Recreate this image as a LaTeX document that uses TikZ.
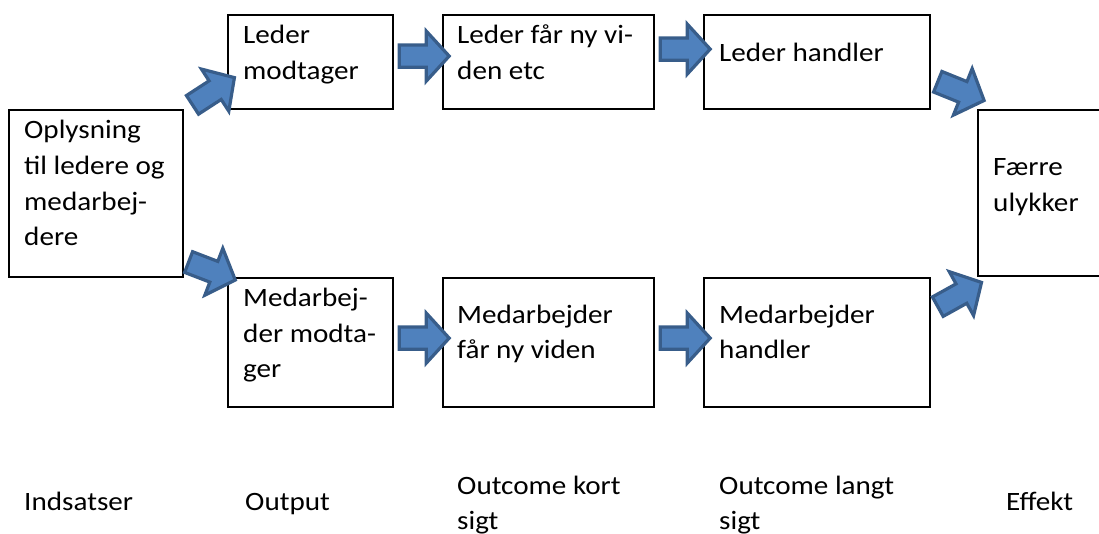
\documentclass[tikz,border=0pt]{standalone}
\usepackage{fontspec}
\setmainfont{Carlito}[FakeStretch=1.1]
\usetikzlibrary{shapes.arrows,calc}
\definecolor{arrfill}{HTML}{4F81BD}
\definecolor{arrline}{HTML}{385D8A}
\tikzset{
  box/.style={draw=black, line width=2.2pt, inner sep=0pt, anchor=north west},
  txt/.style={anchor=base west, inner sep=0pt, font=\fontsize{26.5}{35}\selectfont},
  blockarrow/.style={single arrow, draw=arrline, fill=arrfill, line width=3.2pt,
    minimum height=50pt, single arrow head extend=14pt, inner xsep=0pt,
    inner ysep=9.5pt, single arrow tip angle=95, anchor=center, font=\tiny}
}
\begin{document}
\begin{tikzpicture}[x=1pt,y=-1pt]
\useasboundingbox (0,0) rectangle (1099,533);
\clip (0,0) rectangle (1099,533);
% boxes
\node[box, minimum width=174pt, minimum height=167pt] (A) at (8,109) {};
\node[box, minimum width=165pt, minimum height=94pt] (B1) at (227,14) {};
\node[box, minimum width=211pt, minimum height=94pt] (C1) at (442,14) {};
\node[box, minimum width=226pt, minimum height=94pt] (D1) at (703,14) {};
\node[box, minimum width=140pt, minimum height=166pt] (E) at (977,109) {};
\node[box, minimum width=165pt, minimum height=129pt] (B2) at (227,277) {};
\node[box, minimum width=211pt, minimum height=129pt] (C2) at (442,277) {};
\node[box, minimum width=226pt, minimum height=129pt] (D2) at (703,277) {};
% box texts
\node[txt] (a1) at (24,138) {Oplysning};
\node[txt] (a2) at (24,174) {til ledere og};
\node[txt] (a3) at (24,210) {medarbej-};
\node[txt] (a4) at (24,245) {dere};
\node[txt] (b11) at (243,43) {Leder};
\node[txt] (b12) at (243,79) {modtager};
\node[txt] (c11) at (457,43) {Leder får ny vi-};
\node[txt] (c12) at (457,79) {den etc};
\node[txt] (d11) at (719,61) {Leder handler};
\node[txt] (e1) at (993,175) {Færre};
\node[txt] (e2) at (993,211) {ulykker};
\node[txt] (b21) at (243,306) {Medarbej-};
\node[txt] (b22) at (243,342) {der modta-};
\node[txt] (b23) at (243,377) {ger};
\node[txt] (c21) at (457,323) {Medarbejder};
\node[txt] (c22) at (457,358) {får ny viden};
\node[txt] (d21) at (719,323) {Medarbejder};
\node[txt] (d22) at (719,358) {handler};
% bottom labels
\node[txt] (l1) at (24,510) {Indsatser};
\node[txt] (l2) at (245,510) {Output};
\node[txt] (l3) at (457,494) {Outcome kort};
\node[txt] (l3b) at (457,529) {sigt};
\node[txt] (l4) at (719,494) {Outcome langt};
\node[txt] (l4b) at (719,529) {sigt};
\node[txt] (l5) at (1006,510) {Effekt};
% block arrows
\node[blockarrow, rotate=33] (ar1) at ($(A.north east)+(25,-15)$) {};
\node[blockarrow, rotate=-21] (ar2) at ($(A.south east)+(23,-9)$) {};
\node[blockarrow] (ar3) at ($(B1.east)!0.5!(C1.west)+(1,-6)$) {};
\node[blockarrow] (ar4) at ($(C1.east)!0.5!(D1.west)+(1,-13)$) {};
\node[blockarrow] (ar5) at ($(B2.east)!0.5!(C2.west)+(1,-4.5)$) {};
\node[blockarrow] (ar8) at ($(C2.east)!0.5!(D2.west)+(1,-4.5)$) {};
\node[blockarrow, rotate=-22] (ar6) at ($(D1.south east)+(25,-21)$) {};
\node[blockarrow, rotate=29] (ar7) at ($(D2.north east)+(24,20)$) {};
\end{tikzpicture}
\end{document}
